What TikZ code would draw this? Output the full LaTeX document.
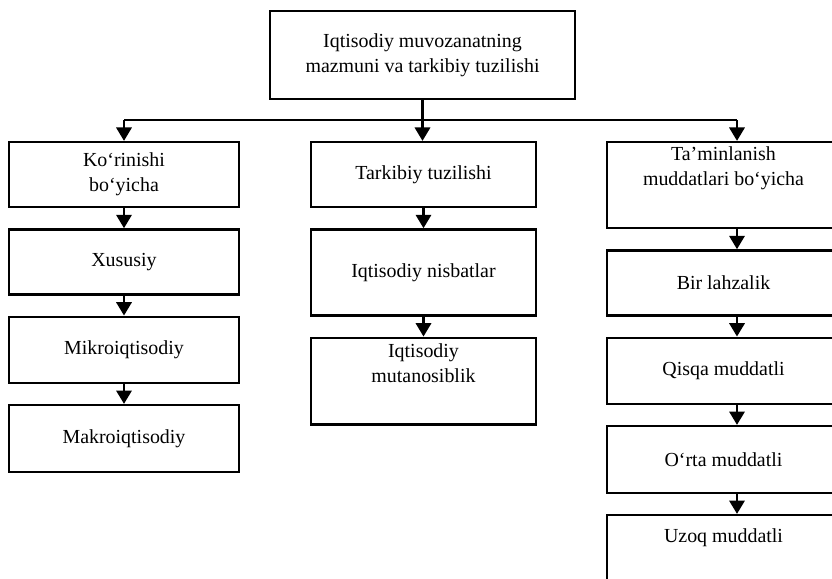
\documentclass[tikz,border=0pt]{standalone}
\usepackage{fontspec}
\setmainfont{Liberation Serif}
\usetikzlibrary{arrows.meta,positioning}
\newcommand{\lifttext}[2]{\raisebox{0pt}[\height][\dimexpr\depth+#1\relax]{#2}}

\begin{document}
\begin{tikzpicture}[x=0.03cm,y=-0.03cm,node distance=0.6cm,
  box/.style={draw,line width=2pt,align=center,inner sep=2pt,font=\fontsize{17}{21}\selectfont},
  arr/.style={line width=2pt,-{Triangle[length=4mm,width=4.6mm]}}]
\useasboundingbox (0,0) rectangle (832,578);
\node[box,minimum width=9.15cm,minimum height=2.64cm] (top) at (422.5,55) {Iqtisodiy muvozanatning\\mazmuni va tarkibiy tuzilishi};
% left column
\node[box,minimum width=6.9cm,minimum height=1.95cm] (kor) at (124,174.5) {Ko‘rinishi\\bo‘yicha};
\node[box,minimum width=6.9cm,minimum height=1.95cm,below=of kor] (xus) {Xususiy};
\node[box,minimum width=6.9cm,minimum height=1.98cm,below=of xus] (mik) {Mikroiqtisodiy};
\node[box,minimum width=6.9cm,minimum height=2.0cm,below=of mik] (mak) {Makroiqtisodiy};
% middle column
\node[box,minimum width=6.75cm,minimum height=1.95cm] (tar) at (423.5,174.5) {Tarkibiy tuzilishi};
\node[box,minimum width=6.75cm,minimum height=2.58cm,below=of tar] (nis) {Iqtisodiy nisbatlar};
\node[box,minimum width=6.75cm,minimum height=2.6cm,below=of nis] (mut) {Iqtisodiy\\\lifttext{1.08cm}{mutanosiblik}};
% right column
\node[box,minimum width=7.0cm,minimum height=2.58cm] (tam) at (723.5,185) {Ta’minlanish\\\lifttext{1cm}{muddatlari bo‘yicha}};
\node[box,minimum width=7.0cm,minimum height=1.95cm,below=of tam] (bir) {Bir lahzalik};
\node[box,minimum width=7.0cm,minimum height=1.98cm,below=of bir] (qis) {Qisqa muddatli};
\node[box,minimum width=7.0cm,minimum height=2.0cm,below=of qis] (ort) {O‘rta muddatli};
\node[box,minimum width=7.0cm,minimum height=2.6cm,below=of ort] (uzo) {\lifttext{1.23cm}{Uzoq muddatli}};
% connectors
\coordinate (lx) at (124,120);
\coordinate (rx) at (737,120);
\draw[line width=2pt] (lx) -- (rx);
\draw[arr] (top.south) -- (top.south |- tar.north);
\draw[arr] (lx) -- (kor);
\draw[arr] (rx) -- (rx |- tam.north);
\foreach \a/\b in {kor/xus,xus/mik,mik/mak,tar/nis,nis/mut}{\draw[arr] (\a) -- (\b);}
\foreach \a/\b in {tam/bir,bir/qis,qis/ort,ort/uzo}{\draw[arr] (\a.south -| rx) -- (\b.north -| rx);}
\end{tikzpicture}
\end{document}
